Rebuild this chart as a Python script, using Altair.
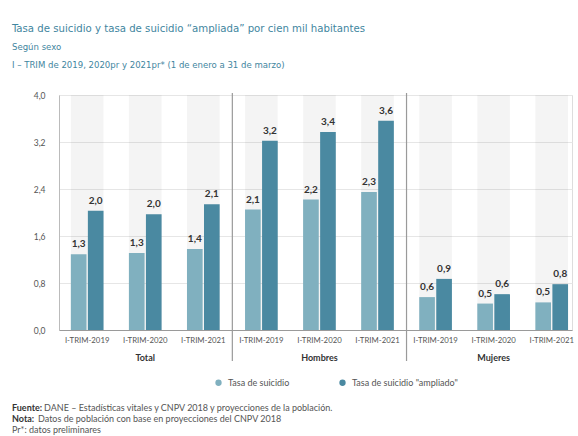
import altair as alt
import pandas as pd

groups = ["Total", "Hombres", "Mujeres"]
periods = ["I-TRIM-2019", "I-TRIM-2020", "I-TRIM-2021"]
series = ["Tasa de suicidio", "Tasa de suicidio \"ampliado\""]
tasa = [1.29, 1.31, 1.38, 2.05, 2.22, 2.35, 0.56, 0.45, 0.47]
tasa_labels = ["1,3", "1,3", "1,4", "2,1", "2,2", "2,3", "0,6", "0,5", "0,5"]
ampliada = [2.03, 1.97, 2.14, 3.22, 3.37, 3.56, 0.87, 0.61, 0.78]
ampliada_labels = ["2,0", "2,0", "2,1", "3,2", "3,4", "3,6", "0,9", "0,6", "0,8"]
y_ticks = [0.0, 0.8, 1.6, 2.4, 3.2, 4.0]
colors = ["#80b0bf", "#4a89a1"]

title_text = "Tasa de suicidio y tasa de suicidio “ampliada” por cien mil habitantes"
subtitle_lines = ["Según sexo", "I – TRIM de 2019, 2020pr y 2021pr* (1 de enero a 31 de marzo)"]
footer_bold = ["Fuente:", "Nota:"]
footer_text = ["DANE – Estadísticas vitales y CNPV 2018 y proyecciones de la población.",
               "Datos de población con base en proyecciones del CNPV 2018",
               "Pr*: datos preliminares"]

keys = [f"{g}|{p}" for g in groups for p in periods]

rows = []
i = 0
for g in groups:
    for p in periods:
        k = f"{g}|{p}"
        rows.append({"key": k, "serie": series[0], "valor": tasa[i], "etiqueta": tasa_labels[i]})
        rows.append({"key": k, "serie": series[1], "valor": ampliada[i], "etiqueta": ampliada_labels[i]})
        i += 1
df = pd.DataFrame(rows)
bands_df = pd.DataFrame({"key": keys, "top": [y_ticks[-1]] * len(keys), "bottom": [y_ticks[0]] * len(keys)})
sep_df = pd.DataFrame({"key": [f"{g}|{periods[0]}" for g in groups[1:]]})
grp_df = pd.DataFrame({"key": [f"{g}|{periods[1]}" for g in groups], "grupo": groups})

FONT = "Lato, Open Sans, sans-serif"
NARROW = "Liberation Sans Narrow, DejaVu Sans Condensed, sans-serif"
PI = 0.437

xscale = alt.Scale(domain=keys, paddingInner=PI, paddingOuter=0.136, align=0.75)
yscale = alt.Scale(domain=[y_ticks[0], y_ticks[-1]], nice=False)

x_enc = alt.X("key:N", scale=xscale, sort=keys,
              axis=alt.Axis(title=None, labelExpr="split(datum.value, '|')[1]", labelAngle=0,
                            ticks=False, domainColor="#9a9a9a", labelFontSize=7.8,
                            labelColor="#555555", labelPadding=6, labelFont=FONT, grid=False))

bands = alt.Chart(bands_df).mark_bar(color="#000000", opacity=0.045).encode(
    x=x_enc,
    y=alt.Y("top:Q", scale=yscale),
    y2="bottom:Q",
)

bars = alt.Chart(df).mark_bar().encode(
    x=x_enc,
    xOffset=alt.XOffset("serie:N", sort=series, scale=alt.Scale(paddingInner=0.08)),
    y=alt.Y("valor:Q", scale=yscale,
            axis=alt.Axis(title=None, values=y_ticks,
                          labelExpr="replace(format(datum.value, '.1f'), '.', ',')",
                          ticks=False, domainColor="#bbbbbb", gridColor="#e6e6e6",
                          labelPadding=14, labelFontSize=8.5, labelColor="#555555",
                          labelFont=FONT)),
    color=alt.Color("serie:N", sort=series,
                    scale=alt.Scale(domain=series, range=colors),
                    legend=alt.Legend(orient="none", legendX=155, legendY=283,
                                      direction="horizontal", title=None,
                                      symbolType="circle", symbolSize=40,
                                      labelFontSize=9, labelColor="#555555", labelFont=FONT,
                                      columnPadding=48, labelOffset=5, symbolStrokeWidth=0)),
)

labels = alt.Chart(df).mark_text(dy=-5, baseline="bottom", font=FONT, fontWeight="bold",
                                 fontSize=10, color="#333333").encode(
    x=x_enc,
    xOffset=alt.XOffset("serie:N", sort=series, scale=alt.Scale(paddingInner=0.08)),
    y=alt.Y("valor:Q", scale=yscale),
    text="etiqueta:N",
)

seps = alt.Chart(sep_df).mark_rule(color="#9a9a9a", strokeWidth=1.2, xOffset=-12.7).encode(
    x=alt.X("key:N", scale=xscale, sort=keys, bandPosition=0),
    y=alt.value(-2),
    y2=alt.value(266),
)

grp = alt.Chart(grp_df).mark_text(font=FONT, fontWeight="bold", fontSize=9,
                                  color="#333333", baseline="middle").encode(
    x=alt.X("key:N", scale=xscale, sort=keys),
    y=alt.value(263),
    text="grupo:N",
)

one = pd.DataFrame({"a": [0]})
foot_layers = []
foot_y = [316, 327, 338]
bold_w = [32, 26]
for j in range(3):
    if j < 2:
        foot_layers.append(alt.Chart(one).mark_text(
            text=footer_bold[j], align="left", baseline="alphabetic", font=FONT,
            fontWeight="bold", fontSize=9, color="#333333").encode(
            x=alt.value(-47), y=alt.value(foot_y[j])))
        foot_layers.append(alt.Chart(one).mark_text(
            text=footer_text[j], align="left", baseline="alphabetic", font=FONT,
            fontSize=9, color="#555555").encode(
            x=alt.value(-47 + bold_w[j]), y=alt.value(foot_y[j])))
    else:
        foot_layers.append(alt.Chart(one).mark_text(
            text=footer_text[j], align="left", baseline="alphabetic", font=FONT,
            fontSize=9, color="#555555").encode(
            x=alt.value(-47), y=alt.value(foot_y[j])))

chart = alt.layer(bands, bars, labels, seps, grp, *foot_layers).properties(
    width=513, height=235,
    padding={"left": 59, "top": 95, "right": 6, "bottom": 106},
    autosize=alt.AutoSizeParams(type="none"),
    title=alt.Title(text=title_text, subtitle=subtitle_lines, anchor="start", frame="group",
                    dx=-47, offset=22, font=NARROW, fontSize=11.3, fontWeight="normal",
                    color="#3f86a0", subtitleFont=NARROW, subtitleFontSize=9.5,
                    subtitleColor="#3f86a0", subtitlePadding=8, subtitleLineHeight=17),
).configure_view(stroke=None).configure(background="white")

chart.save("out.html", embed_options={"renderer": "svg", "actions": False})
